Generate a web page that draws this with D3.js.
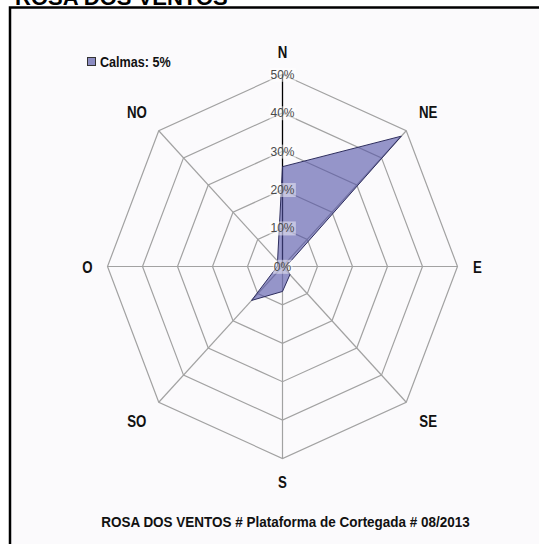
<!DOCTYPE html>
<html><head><meta charset="utf-8">
<script src="https://cdn.jsdelivr.net/npm/d3@7"></script>
<style>
html,body{margin:0;padding:0;background:#fff;}
svg{display:block;}
</style></head>
<body>
<script>
const directions = ["N","NE","E","SE","S","SO","O","NO"];
const values = [26, 48, 1, 3, 6.5, 12.5, 1.5, 2];
const ticks = [0,10,20,30,40,50];
const tickLabels = ["0%","10%","20%","30%","40%","50%"];
const legendLabel = "Calmas: 5%";
const title = "ROSA DOS VENTOS";
const caption = "ROSA DOS VENTOS # Plataforma de Cortegada # 08/2013";

const W = 539, H = 544;
const cx = 282.5, cy = 266.5, rx = 175, ry = 192;
const font = "Arial,'Liberation Sans',sans-serif";

const svg = d3.select("body").append("svg").attr("width", W).attr("height", H);

// frame
svg.append("rect").attr("x",10).attr("y",7.5).attr("width",W+10).attr("height",H+10)
  .attr("fill","#fbfafc").attr("stroke","#000").attr("stroke-width",2.5);

svg.append("text").attr("x",15).attr("y",4.5).text(title)
  .attr("font-family",font).attr("font-weight","bold")
  .attr("font-size",22).attr("fill","#000");

const r = d3.scaleLinear().domain([0,50]).range([0,1]);
const angle = d3.scalePoint().domain(directions).range([0, 2*Math.PI*(directions.length-1)/directions.length]);
const pt = (dir, v) => {
  const a = angle(dir);
  return [cx + rx*r(v)*Math.sin(a), cy - ry*r(v)*Math.cos(a)];
};

// narrow bold text helper (horizontal compression)
function narrowText(x, y, str, size, sx, anchor) {
  return svg.append("text")
    .attr("transform", `translate(${x},${y}) scale(${sx},1)`)
    .attr("dy","0.36em").attr("text-anchor", anchor)
    .attr("font-family", font).attr("font-weight","bold")
    .attr("font-size", size).attr("fill","#111").text(str);
}

// rings
const g = svg.append("g");
ticks.filter(t=>t>0).forEach(t=>{
  g.append("path")
    .attr("d", d3.line()(directions.map(d=>pt(d,t))) + "Z")
    .attr("fill","none").attr("stroke","#a2a2a2").attr("stroke-width",1.2);
});
// spokes
directions.forEach((d,i)=>{
  const [x,y] = pt(d, 50);
  g.append("line").attr("x1",cx).attr("y1",cy).attr("x2",x).attr("y2",y)
    .attr("stroke", i===0 ? "#000" : "#a2a2a2").attr("stroke-width", i===0 ? 1.3 : 1.2);
});

// data polygon
svg.append("path")
  .attr("d", d3.line()(directions.map((d,i)=>pt(d, values[i]))) + "Z")
  .attr("fill","#5252a6").attr("fill-opacity",0.6)
  .attr("stroke","#2e2e5e").attr("stroke-width",1);

// tick labels
const tg = svg.append("g");
ticks.forEach((t,i)=>{
  const [x,y] = pt("N", t);
  const txt = tg.append("text").attr("x",x).attr("y",y).attr("dy","0.36em")
    .attr("text-anchor","middle").attr("font-family",font)
    .attr("font-size",12).attr("fill","#4a4a4a").text(tickLabels[i]);
  const bb = txt.node().getBBox();
  tg.insert("rect", "text").attr("x",bb.x-1).attr("y",bb.y).attr("width",bb.width+2).attr("height",bb.height)
    .attr("fill","#fff").attr("fill-opacity",0.45);
});

// direction labels
directions.forEach(d=>{
  const a = angle(d);
  const s = Math.sin(a), c = Math.cos(a);
  const [x,y] = pt(d, 50);
  const ox = s*(Math.abs(s)>0.9 ? 20 : 31);
  const oy = -c*(Math.abs(c)>0.9 ? 23 : 26);
  narrowText(x+ox, y+oy, d, 17, 0.78, "middle");
});

// legend
svg.append("rect").attr("x",87.5).attr("y",57.5).attr("width",8).attr("height",8)
  .attr("fill","#8c8cc2").attr("stroke","#333").attr("stroke-width",1);
narrowText(100, 62, legendLabel, 14, 0.9, "start");

// caption
narrowText(285.5, 522, caption, 15, 0.9, "middle");
</script>
</body></html>
